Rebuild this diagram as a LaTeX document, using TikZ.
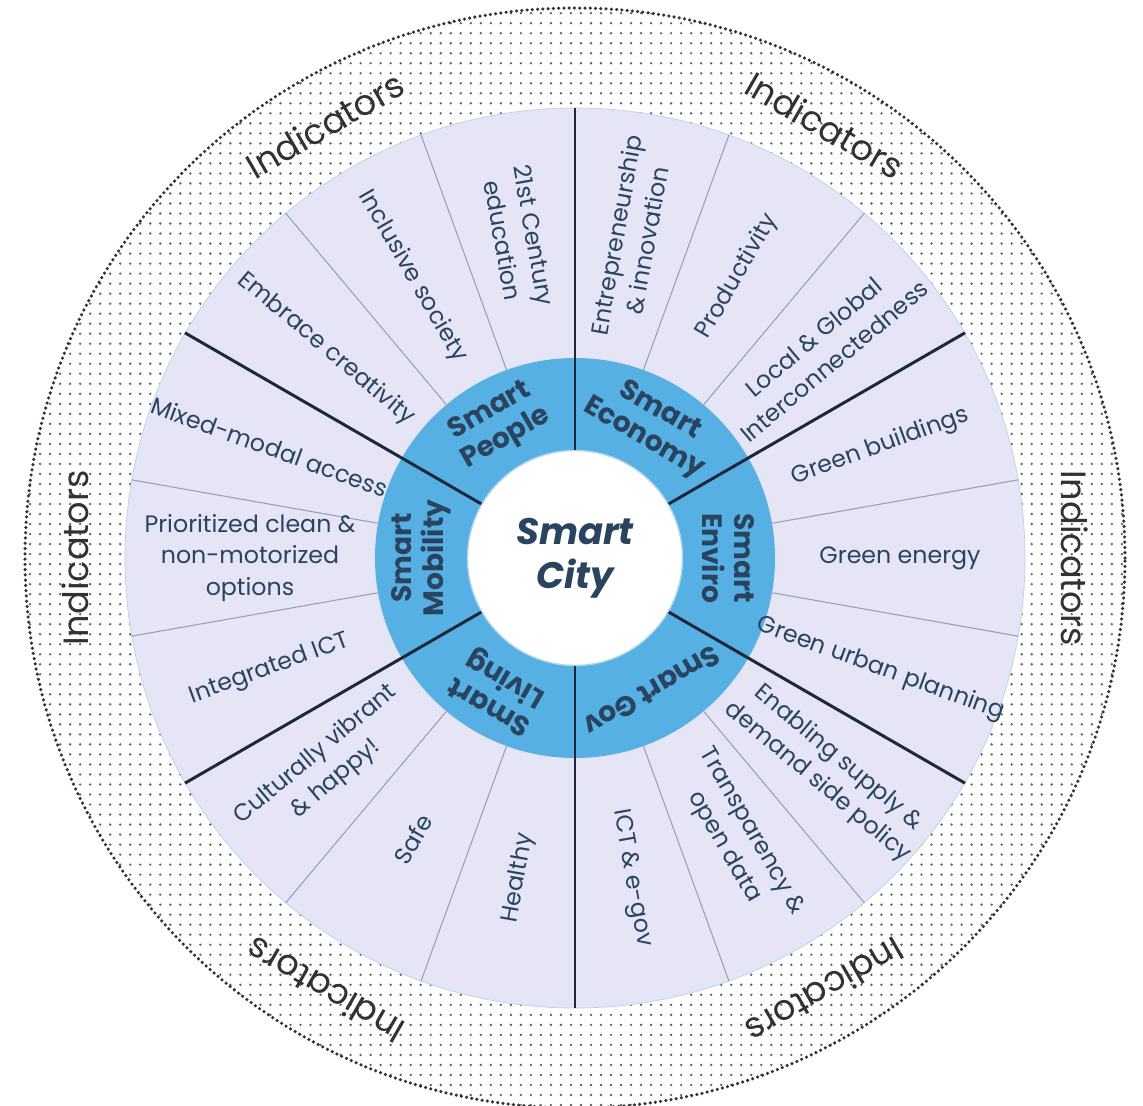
\documentclass[tikz,border=0pt]{standalone}
\usepackage{fontspec}
\setmainfont{Poppins}
\usepackage{tikz}
\definecolor{Blue60}{RGB}{86, 176, 228}
\definecolor{Blue20}{RGB}{176, 214, 236}
\definecolor{Lilac10}{RGB}{229, 229, 246}
\definecolor{Navy}{RGB}{30, 40, 58}
\definecolor{Slate}{RGB}{42, 68, 96}
\definecolor{Grey30}{RGB}{150, 160, 180}
\definecolor{Grey50}{RGB}{95, 95, 95}
\definecolor{Grey70}{RGB}{50, 50, 50}
\usetikzlibrary{patterns.meta}
\tikzset{
    voce/.style={align=center, text=Slate, inner sep=1pt, font=\fontsize{13.5}{18}\selectfont},
    asse/.style={align=center, text=Slate, inner sep=1pt, font=\fontsize{16}{18}\selectfont\bfseries},
    indicatore/.style={text=Grey70, inner sep=1pt, font=\fontsize{20}{24}\selectfont},
    divisore/.style={draw=Navy, line width=1.7pt},
    separatore/.style={draw=Grey30, line width=0.6pt}
}

\begin{document}
\begin{tikzpicture}[
        anello/.style={circle, inner sep=0pt},
        anello esterno/.style={pattern={Dots[radius=0.75pt, distance=5.7pt]}, pattern color=Grey50},
        bordo puntinato/.style={draw=Grey70, line width=2pt, line cap=round, dash pattern=on 0pt off 3pt}
    ]
    \useasboundingbox (-11.5,-10.94) rectangle (11.36,11.16);
    \fill[white] (-11.5,-10.94) rectangle (11.36,11.16);

    \node[anello, minimum size=22cm, anello esterno] (esterno) at (0,0) {};
    \draw[bordo puntinato] (0,0) circle [radius=11];
    \node[anello, minimum size=18cm, fill=Lilac10, draw=Blue20] (ruota) at (0,0) {};
    \node[anello, minimum size=8cm, fill=Blue60] (mozzo) at (0,0) {};

    \draw[separatore] (mozzo.10)  -- (ruota.10);
    \draw[separatore] (mozzo.50)  -- (ruota.50);
    \draw[separatore] (mozzo.70)  -- (ruota.70);
    \draw[separatore] (mozzo.110) -- (ruota.110);
    \draw[separatore] (mozzo.130) -- (ruota.130);
    \draw[separatore] (mozzo.170) -- (ruota.170);
    \draw[separatore] (mozzo.190) -- (ruota.190);
    \draw[separatore] (mozzo.230) -- (ruota.230);
    \draw[separatore] (mozzo.250) -- (ruota.250);
    \draw[separatore] (mozzo.290) -- (ruota.290);
    \draw[separatore] (mozzo.310) -- (ruota.310);
    \draw[separatore] (mozzo.350) -- (ruota.350);

    \node[anello, minimum size=4.3cm, fill=white, draw=Blue20, thick, align=center, text=Slate,
          font=\fontsize{21}{25}\selectfont\bfseries\itshape] (citta) at (0,0) {Smart\\ City};

    \draw[divisore] (citta.30)  -- (ruota.30);
    \draw[divisore] (citta.90)  -- (ruota.90);
    \draw[divisore] (citta.150) -- (ruota.150);
    \draw[divisore] (citta.210) -- (ruota.210);
    \draw[divisore] (citta.270) -- (ruota.270);
    \draw[divisore] (citta.330) -- (ruota.330);

    \node[asse, rotate=30]   (people)   at (120:3.07) {Smart\\ People};
    \node[asse, rotate=-30]  (economy)  at (60:3.07)  {Smart\\ Economy};
    \node[asse, rotate=-90]  (enviro)   at (0:3.07)   {Smart\\ Enviro};
    \node[asse, rotate=-150] (gov)      at (-60:3.07) {Smart Gov};
    \node[asse, rotate=150]  (living)   at (-120:3.07) {Smart\\ Living};
    \node[asse, rotate=90]   (mobility) at (180:3.07) {Smart\\ Mobility};

    \node[voce, rotate=80]  (entrepr)   at (80:6.5)  {Entrepreneurship\\ \& innovation};
    \node[voce, rotate=60]  (product)   at (60:6.5)  {Productivity};
    \node[voce, rotate=40]  (interconn) at (40:6.5)  {Local \& Global\\ Interconnectedness};
    \node[voce, rotate=20]  (buildings) at (20:6.5)  {Green buildings};
    \node[voce, rotate=0]   (energy)    at (0:6.5)   {Green energy};
    \node[voce, rotate=-20] (urban)     at (-20:6.5) {Green urban planning};
    \node[voce, rotate=-40] (policy)    at (-40:6.6) {Enabling supply \&\\ demand side policy};
    \node[voce, rotate=-60] (opendata)  at (-60:6.5) {Transparency \&\\ open data};
    \node[voce, rotate=-80] (egov)      at (-80:6.5) {ICT \& e-gov};
    \node[voce, rotate=80]  (healthy)   at (260:6.5) {Healthy};
    \node[voce, rotate=60]  (safe)      at (240:6.5) {Safe};
    \node[voce, rotate=40]  (vibrant)   at (220:6.5) {Culturally vibrant\\ \& happy!};
    \node[voce, rotate=20]  (ict)       at (200:6.5) {Integrated ICT};
    \node[voce, rotate=0]   (clean)     at (180:6.5) {Prioritized clean \&\\ non-motorized\\ options};
    \node[voce, rotate=-20] (modal)     at (160:6.5) {Mixed-modal access};
    \node[voce, rotate=-40] (creativity) at (140:6.5) {Embrace creativity};
    \node[voce, rotate=-60] (inclusive) at (120:6.5) {Inclusive society};
    \node[voce, rotate=-80] (education) at (100:6.5) {21st Century\\ education};

    \node[indicatore, rotate=30]   (ind people)   at (120:10) {Indicators};
    \node[indicatore, rotate=-30]  (ind economy)  at (60:10)  {Indicators};
    \node[indicatore, rotate=-90]  (ind enviro)   at (0:10)   {Indicators};
    \node[indicatore, rotate=-150] (ind gov)      at (-60:10) {Indicators};
    \node[indicatore, rotate=150]  (ind living)   at (-120:10) {Indicators};
    \node[indicatore, rotate=90]   (ind mobility) at (180:10) {Indicators};

\end{tikzpicture}
\end{document}
